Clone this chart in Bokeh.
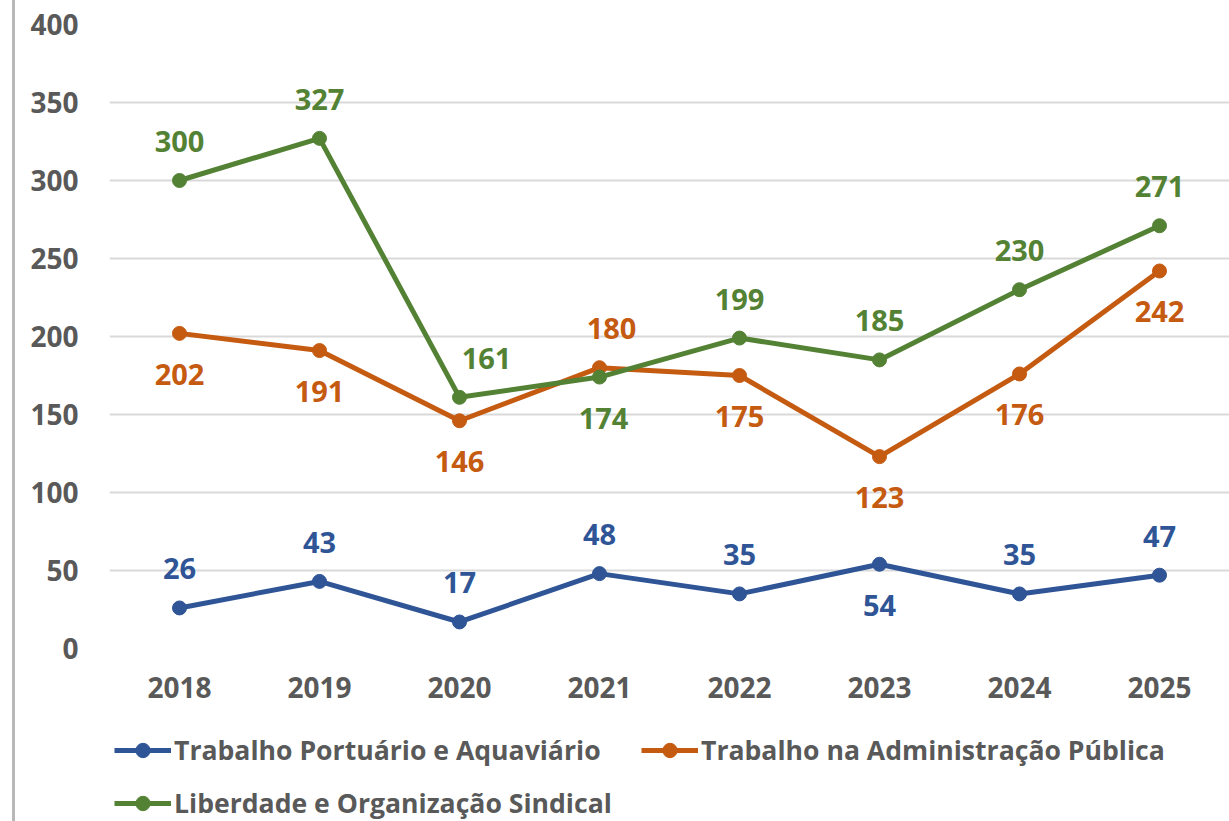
from bokeh.plotting import figure
from bokeh.models import (ColumnDataSource, Range1d, FactorRange, Legend, LegendItem,
                          Div, SingleIntervalTicker)
from bokeh.layouts import row, column
from bokeh.core.properties import value
from bokeh.embed import file_html
from bokeh.resources import INLINE

# ---- data ----
years = ["2018", "2019", "2020", "2021", "2022", "2023", "2024", "2025"]
portuario = [26, 43, 17, 48, 35, 54, 35, 47]
administracao = [202, 191, 146, 180, 175, 123, 176, 242]
sindical = [300, 327, 161, 174, 199, 185, 230, 271]
series_names = ["Trabalho Portuário e Aquaviário",
                "Trabalho na Administração Pública",
                "Liberdade e Organização Sindical"]

# label placement (a = above, b = below) and small horizontal nudges
pos_portuario = ["a", "a", "a", "a", "a", "b", "a", "a"]
pos_administracao = ["b", "b", "b", "a", "b", "b", "b", "b"]
pos_sindical = ["a", "a", "a", "b", "a", "a", "a", "a"]
dx_administracao = [0, 0, 0, 12, 0, 0, 0, 0]
dx_sindical = [0, 0, 27, 4, 0, 0, 0, 0]
dx_portuario = [0, 0, 0, 0, 0, 0, 0, 0]

colors = ["#2F5597", "#C55A11", "#548235"]
FONT = "Open Sans"
GRAY = "#595959"

p = figure(x_range=FactorRange(factors=years), y_range=Range1d(0, 400),
           width=1214, height=728, output_backend="svg", toolbar_location=None,
           min_border_left=94, min_border_right=0, min_border_top=24,
           min_border_bottom=80)
p.outline_line_color = None
p.background_fill_color = "white"
p.border_fill_color = "white"

p.xgrid.grid_line_color = None
p.ygrid.grid_line_color = "#d9d9d9"
p.ygrid.grid_line_width = 2

p.yaxis.ticker = SingleIntervalTicker(interval=50)
for ax in (p.xaxis[0], p.yaxis[0]):
    ax.axis_line_color = None
    ax.major_tick_line_color = None
    ax.minor_tick_line_color = None
    ax.major_label_text_font = FONT
    ax.major_label_text_font_style = "bold"
    ax.major_label_text_font_size = "28px"
    ax.major_label_text_color = GRAY
p.yaxis.major_label_standoff = 25
p.xaxis.major_label_standoff = 22

# legend lives in its own strip below the chart
pl = figure(x_range=Range1d(0, 1), y_range=Range1d(0, 1), width=1214, height=93,
            output_backend="svg", toolbar_location=None,
            x_axis_type=None, y_axis_type=None,
            min_border_left=0, min_border_right=0, min_border_top=0, min_border_bottom=0)
pl.outline_line_color = None
pl.xgrid.grid_line_color = None
pl.ygrid.grid_line_color = None

items = []
for name, vals, pos, dx, col in [
        (series_names[0], portuario, pos_portuario, dx_portuario, colors[0]),
        (series_names[1], administracao, pos_administracao, dx_administracao, colors[1]),
        (series_names[2], sindical, pos_sindical, dx_sindical, colors[2])]:
    src = ColumnDataSource(dict(
        x=years, y=vals, label=[str(v) for v in vals],
        dy=[-39 if s == "a" else 41 for s in pos], dx=dx))
    p.line("x", "y", source=src, line_color=col, line_width=5)
    p.scatter("x", "y", source=src, size=14, fill_color=col, line_color=col)
    p.text("x", "y", text="label", x_offset="dx", y_offset="dy", source=src,
           text_font=value(FONT), text_font_style="bold", text_font_size="29px",
           text_color=col, text_align="center", text_baseline="middle")
    # proxy renderers (off-screen) so the legend strip can draw the series keys
    proxy = ColumnDataSource(dict(x=[-5, -4], y=[-5, -5]))
    lln = pl.line("x", "y", source=proxy, line_color=col, line_width=5)
    lsc = pl.scatter("x", "y", source=proxy, size=14, fill_color=col, line_color=col)
    items.append(LegendItem(label=name, renderers=[lln, lsc]))

legend = Legend(items=items, location=(5, 0), orientation="horizontal", ncols=2,
                label_text_font=FONT, label_text_font_style="bold",
                label_text_font_size="26.6px", label_text_color=GRAY,
                glyph_width=57, glyph_height=36, label_height=36, label_width=450,
                label_standoff=3, spacing=17, padding=0, margin=0,
                border_line_color=None, background_fill_alpha=0)
pl.add_layout(legend)

spacer = Div(width=12, height=821, margin=0)
vline = Div(width=3, height=821, margin=0, styles={"background-color": "#b8b8b8"})
layout = row(spacer, vline, column(p, pl, spacing=0))

open("out.html", "w").write(file_html(layout, INLINE))
